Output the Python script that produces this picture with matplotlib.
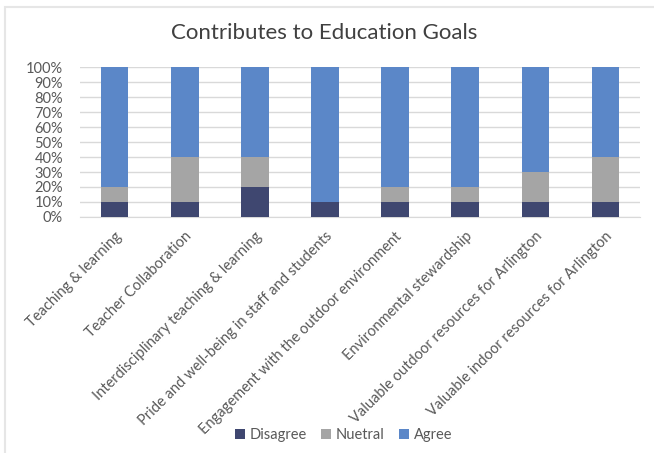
import matplotlib.pyplot as plt
from matplotlib.patches import Rectangle
import numpy as np

# Data

categories = ['Teaching & learning', 'Teacher Collaboration',
              'Interdisciplinary teaching & learning',
              'Pride and well-being in staff and students',
              'Engagement with the outdoor environment',
              'Environmental stewardship',
              'Valuable outdoor resources for Arlington',
              'Valuable indoor resources for Arlington']
disagree = [10, 10, 20, 10, 10, 10, 10, 10]
nuetral = [10, 30, 20, 0, 10, 10, 20, 30]
agree = [80, 60, 60, 90, 80, 80, 70, 60]

plt.rcParams['font.family'] = ['Lato', 'DejaVu Sans']

fig = plt.figure(figsize=(6.54, 4.53), dpi=100)
ax = fig.add_axes([0.122, 0.521, 0.857, 0.331])

# faint frame round the chart
fig.patches.append(Rectangle((5 / 654, -0.05), 1.2, 1 - 7 / 453 + 0.05,
                             transform=fig.transFigure, fill=False,
                             edgecolor='#e6e6e6', linewidth=1.5))

x = np.arange(len(categories))
w = 0.39
d = np.array(disagree)
n = np.array(nuetral)
a = np.array(agree)

ax.bar(x, d, w, color='#3F4770', label='Disagree', zorder=3)
ax.bar(x, n, w, bottom=d, color='#A5A5A5', label='Nuetral', zorder=3)
ax.bar(x, a, w, bottom=d + n, color='#5B87C8', label='Agree', zorder=3)

ax.set_xlim(-0.5, len(categories) - 0.5)
ax.set_ylim(0, 100)
ax.set_yticks(range(0, 101, 10))
ax.set_yticklabels([f'{v}%' for v in range(0, 101, 10)])
ax.yaxis.grid(True, color='#d9d9d9', linewidth=1, zorder=0)
for s in ax.spines.values():
    s.set_visible(False)
ax.spines['bottom'].set_visible(True)
ax.spines['bottom'].set_color('#d9d9d9')
ax.tick_params(axis='both', length=0, colors='#595959', labelsize=10.5)
ax.tick_params(axis='y', pad=12)
ax.tick_params(axis='x', pad=9)

ax.set_xticks(x)
ax.set_xticklabels(categories, rotation=45, ha='right', rotation_mode='anchor')

# title centred on the whole chart, not on the plot area
fig.text(0.496, 1 - 33 / 453, 'Contributes to Education Goals', fontsize=16,
         color='#404040', ha='center', va='center')

fig.legend(loc='lower center', bbox_to_anchor=(0.525, -0.005), ncol=3, frameon=False,
           fontsize=10.5, labelcolor='#595959', handlelength=0.7, handleheight=0.7,
           handletextpad=0.3, columnspacing=1.0)

fig.savefig('out.png', dpi=100)
